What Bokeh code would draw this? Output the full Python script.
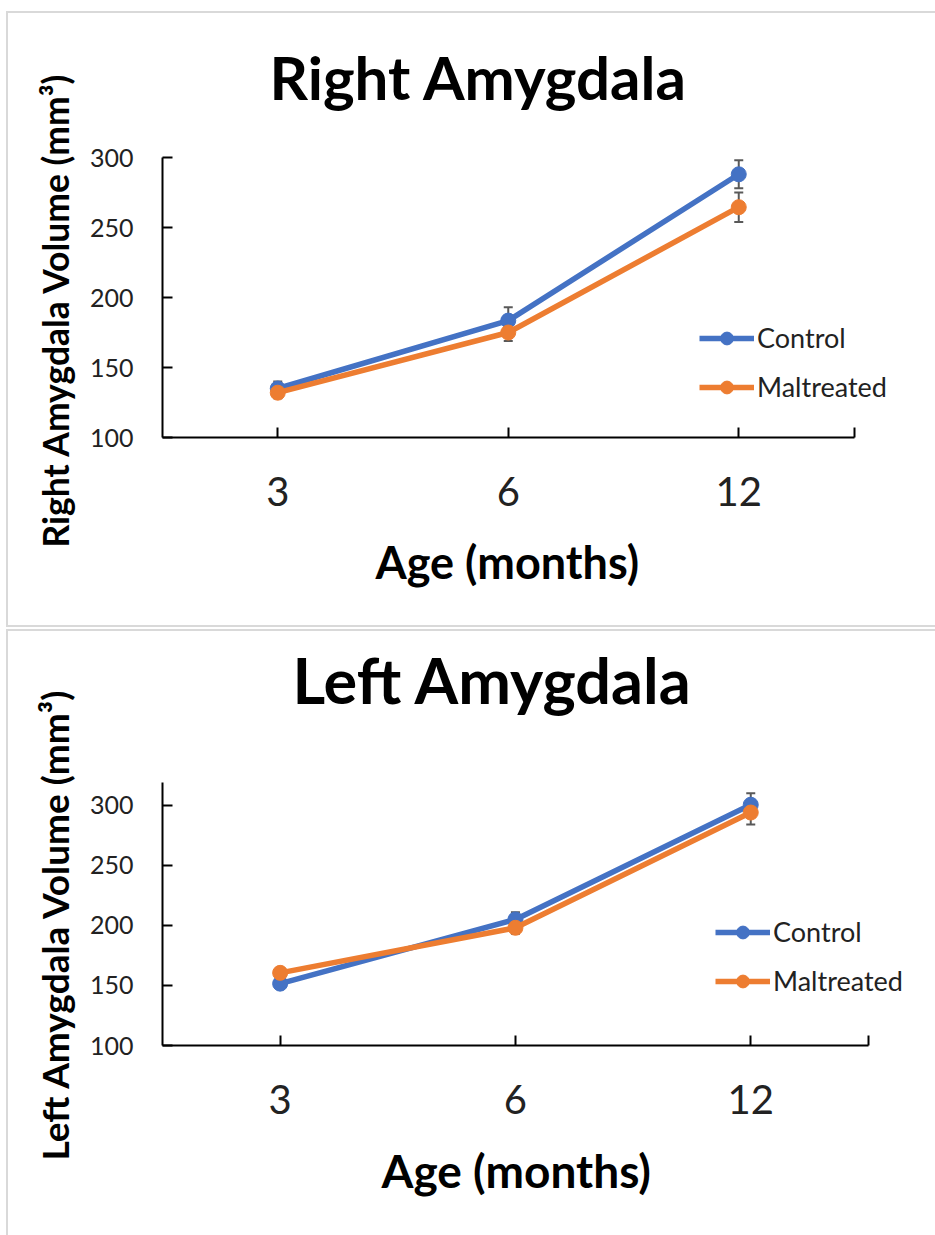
from bokeh.plotting import figure
from bokeh.models import (Range1d, FixedTicker, Whisker, TeeHead, ColumnDataSource,
                          Legend, LegendItem, Title)
from bokeh.layouts import column
from bokeh.embed import file_html
from bokeh.resources import INLINE

# Age groups (months) shown along the x axis
ages = ["3", "6", "12"]

# Right amygdala volume (mm^3), mean and SEM
right_control = [135, 183.5, 288]
right_control_sem = [5, 9.5, 10]
right_maltreated = [132, 175, 264.5]
right_maltreated_sem = [4, 6, 10.5]

# Left amygdala volume (mm^3), mean and SEM
left_control = [151.5, 205, 300.5]
left_control_sem = [3, 6, 9.5]
left_maltreated = [160.5, 198, 294]
left_maltreated_sem = [3, 5, 10]

y_ticks = [100, 150, 200, 250, 300]

FONT = "Lato"
BLUE = "#4472C4"
ORANGE = "#ED7D31"
ERR = "#595959"
TXT = "#222222"

FIG_W = 927          # figure width in px
FRAME_LEFT = 154     # left border of the plotting area
FRAME_RIGHT_PAD = 5  # room kept to the right of the plotting area


def panel(title, ylabel, control, control_sem, maltreated, maltreated_sem,
          y_end, height, border_top, border_bottom, cat_px, title_size,
          title_offset, title_gap, xlabel_size, xlabel_offset,
          ylabel_size, ylabel_offset, legend_loc):
    n = len(ages)
    xs = [i + 0.5 for i in range(n)]
    frame_w = FIG_W - FRAME_LEFT - FRAME_RIGHT_PAD
    # the plotting area reaches past the last category so the legend fits;
    # the x axis itself stops at the last category boundary
    x_end = frame_w / cat_px
    p = figure(width=FIG_W, height=height,
               x_range=Range1d(0, x_end), y_range=Range1d(100, y_end),
               output_backend="svg", toolbar_location=None,
               min_border_left=FRAME_LEFT, min_border_right=FRAME_RIGHT_PAD,
               min_border_top=border_top, min_border_bottom=border_bottom,
               background_fill_color="white", border_fill_color="white")
    p.outline_line_color = None
    p.xgrid.visible = False
    p.ygrid.visible = False
    p.styles = {"outline": "2px solid #D9D9D9"}

    p.title.text = title
    p.title.text_font = FONT
    p.title.text_font_size = title_size
    p.title.text_font_style = "bold"
    p.title.text_color = "black"
    p.title.align = "left"
    p.title.offset = title_offset
    p.title.standoff = 16
    p.title.padding = dict(top=0, right=0, bottom=title_gap, left=0)

    # x axis: one labelled tick per age group, plus a closing tick at the end
    xa = p.xaxis[0]
    xa.bounds = (0, n)
    xa.ticker = FixedTicker(ticks=xs, minor_ticks=[float(n)])
    xa.major_label_overrides = {x: a for x, a in zip(xs, ages)}
    xa.major_tick_in = 10
    xa.major_tick_out = 0
    xa.minor_tick_in = 10
    xa.minor_tick_out = 0
    xa.major_label_standoff = 39

    # x axis title, centred under the axis span rather than the whole area
    p.add_layout(Title(text="Age (months)", align="left", offset=xlabel_offset,
                       vertical_align="top", standoff=52,
                       text_font=FONT, text_font_size=xlabel_size,
                       text_font_style="bold", text_color="black"), "below")

    ya = p.yaxis[0]
    ya.ticker = FixedTicker(ticks=y_ticks)
    ya.major_tick_in = 10
    ya.major_tick_out = 0
    ya.minor_tick_in = 0
    ya.minor_tick_out = 0
    ya.major_label_standoff = 29

    # y axis title, placed along the left edge
    p.add_layout(Title(text=ylabel, align="left", offset=ylabel_offset,
                       standoff=20,
                       text_font=FONT, text_font_size=ylabel_size,
                       text_font_style="bold", text_color="black"), "left")

    for ax, lsize in ((xa, "40px"), (ya, "25px")):
        ax.axis_line_width = 2
        ax.axis_line_color = "black"
        ax.major_tick_line_width = 2
        ax.major_tick_line_color = "black"
        ax.minor_tick_line_width = 2
        ax.minor_tick_line_color = "black"
        ax.major_label_text_font = FONT
        ax.major_label_text_font_size = lsize
        ax.major_label_text_color = TXT

    items = []
    for name, vals, sem, color in (("Control", control, control_sem, BLUE),
                                   ("Maltreated", maltreated, maltreated_sem, ORANGE)):
        src = ColumnDataSource(dict(
            x=xs, y=vals,
            upper=[v + e for v, e in zip(vals, sem)],
            lower=[v - e for v, e in zip(vals, sem)]))
        p.add_layout(Whisker(base="x", upper="upper", lower="lower", source=src,
                             line_color=ERR, line_width=2, level="underlay",
                             upper_head=TeeHead(size=9, line_color=ERR, line_width=2),
                             lower_head=TeeHead(size=9, line_color=ERR, line_width=2)))
        ln = p.line("x", "y", source=src, line_color=color, line_width=5.5,
                    line_join="round")
        mk = p.scatter("x", "y", source=src, size=15, fill_color=color,
                       line_color=color)
        items.append(LegendItem(label=name, renderers=[ln, mk]))

    legend = Legend(items=items, location=legend_loc, orientation="vertical",
                    glyph_width=55, glyph_height=32, label_height=32,
                    label_standoff=3, spacing=16, padding=0, margin=0,
                    border_line_color=None, background_fill_alpha=0,
                    label_text_font=FONT, label_text_font_size="27px",
                    label_text_color=TXT)
    p.add_layout(legend)
    return p


top = panel("Right Amygdala", "Right Amygdala Volume (mm³)",
            right_control, right_control_sem, right_maltreated, right_maltreated_sem,
            y_end=300, height=612, border_top=144, border_bottom=188,
            cat_px=230.5, title_size="60px", title_offset=107, title_gap=37,
            xlabel_size="45px", xlabel_offset=213,
            ylabel_size="35.5px", ylabel_offset=-110, legend_loc=(537, 34))
top.margin = (13, 0, 0, 8)

bottom = panel("Left Amygdala", "Left Amygdala Volume (mm³)",
               left_control, left_control_sem, left_maltreated, left_maltreated_sem,
               y_end=319, height=604, border_top=149, border_bottom=190,
               cat_px=235.3, title_size="63px", title_offset=130, title_gap=58,
               xlabel_size="46px", xlabel_offset=219,
               ylabel_size="37px", ylabel_offset=-115, legend_loc=(553, 48))
bottom.margin = (6, 0, 0, 8)

layout = column(top, bottom)
open("out.html", "w").write(file_html(layout, INLINE))
